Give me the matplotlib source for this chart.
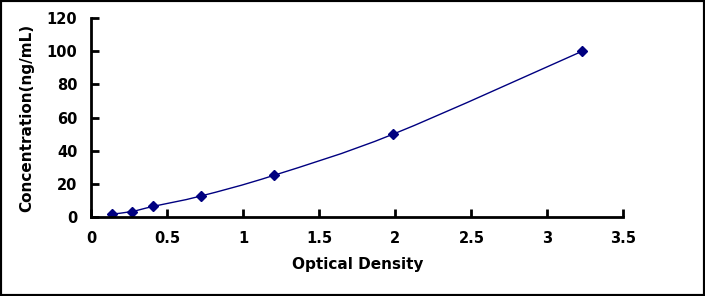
import matplotlib
matplotlib.use("Agg")
import matplotlib.pyplot as plt
from matplotlib.path import Path
from matplotlib.patches import PathPatch, Rectangle
import numpy as np

od = [0.134, 0.266, 0.408, 0.72, 1.20, 1.987, 3.226]
conc = [1.56, 3.12, 6.25, 12.5, 25, 50, 100]
xticks = [0, 0.5, 1, 1.5, 2, 2.5, 3, 3.5]
xticklabels = ["0", "0.5", "1", "1.5", "2", "2.5", "3", "3.5"]
yticks = [0, 20, 40, 60, 80, 100, 120]

plt.rcParams['font.family'] = ['DejaVu Sans']
navy = '#000080'

fig = plt.figure(figsize=(7.05, 2.96), dpi=100)
ax = fig.add_axes([91.3/705, 79.3/296, 532.2/705, 198.4/296])

# smooth (Catmull-Rom style) curve through points
pts = np.column_stack([od, conc])
verts = [tuple(pts[0])]
codes = [Path.MOVETO]
n = len(pts)
t = 1/6
for i in range(n-1):
    p0 = pts[i-1] if i > 0 else pts[i]
    p1 = pts[i]
    p2 = pts[i+1]
    p3 = pts[i+2] if i+2 < n else pts[i+1]
    c1 = p1 + (p2 - p0) * t
    c2 = p2 - (p3 - p1) * t
    verts += [tuple(c1), tuple(c2), tuple(p2)]
    codes += [Path.CURVE4]*3
ax.add_patch(PathPatch(Path(verts, codes), facecolor='none', edgecolor=navy, lw=1.0))
ax.plot(od, conc, linestyle='none', marker='D', markersize=5, color=navy)

ax.set_xlim(0, 3.5)
ax.set_ylim(0, 120)
ax.set_xticks(xticks)
ax.set_xticklabels(xticklabels)
ax.set_yticks(yticks)
for s in ['top', 'right']:
    ax.spines[s].set_visible(False)
for s in ['left', 'bottom']:
    ax.spines[s].set_linewidth(2)
ax.tick_params(direction='in', length=6, width=2, labelsize=10.5, pad=10)
for lab in ax.get_xticklabels() + ax.get_yticklabels():
    lab.set_fontweight('bold')
ax.set_xlabel('Optical Density', fontsize=11, fontweight='bold', labelpad=8)
ax.set_ylabel('Concentration(ng/mL)', fontsize=11, fontweight='bold', labelpad=9)

fig.patches.append(Rectangle((0, 0), 1, 1, transform=fig.transFigure,
                             fill=False, edgecolor='black', lw=3))
fig.savefig('out.png', dpi=100)
